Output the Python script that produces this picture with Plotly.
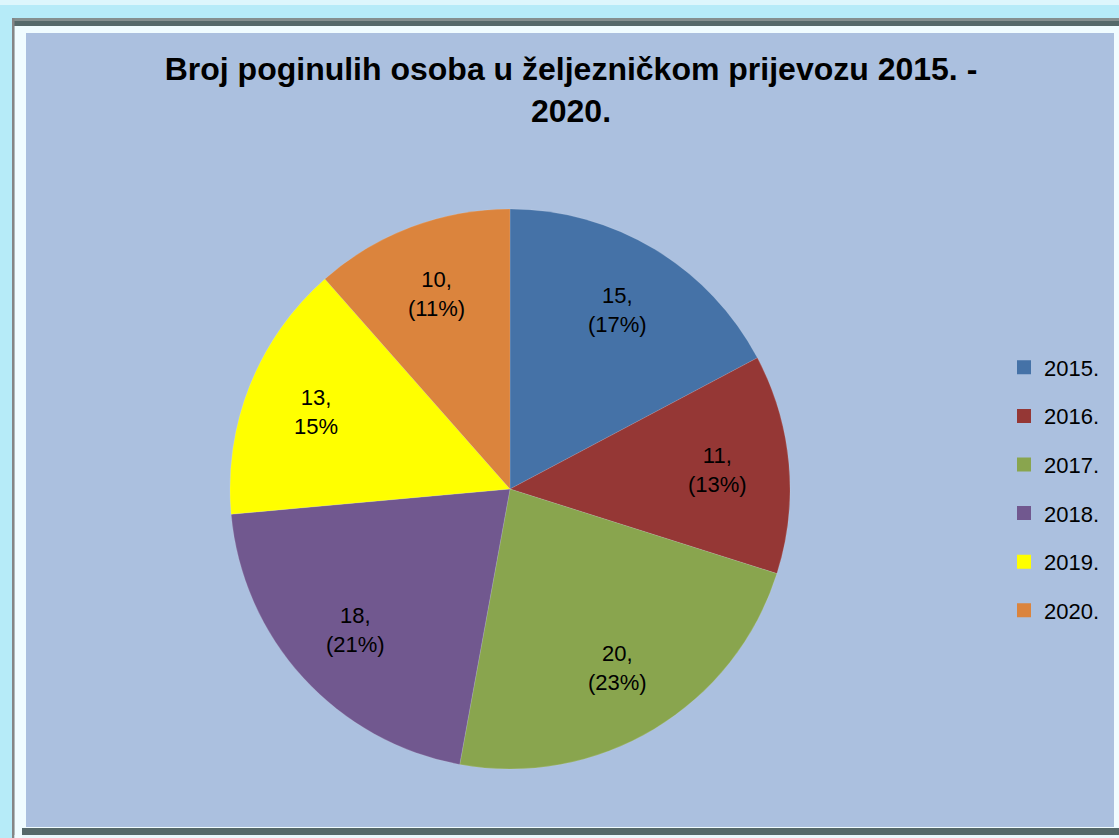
import math
import plotly.graph_objects as go

# ---- data ----
years = ["2015.", "2016.", "2017.", "2018.", "2019.", "2020."]
deaths = [15, 11, 20, 18, 13, 10]
pct_in_parens = [True, True, True, True, False, True]
colors = ["#4572A7", "#953735", "#89A54E", "#71588F", "#FFFF00", "#DB843D"]
title_text = "Broj poginulih osoba u željezničkom prijevozu 2015. -<br>2020."

W, H = 1119, 838
total = sum(deaths)
labels_txt = []
for v, par in zip(deaths, pct_in_parens):
    p = round(100 * v / total)
    labels_txt.append(f"{v},<br>({p}%)" if par else f"{v},<br>{p}%")


def px_x(x):
    return x / W


def px_y(y):
    return 1 - y / H


# pie geometry (pixels)
CX, CY, R = 510, 489, 280
LABEL_R = 0.745

fig = go.Figure()
fig.add_trace(go.Pie(
    labels=years,
    values=deaths,
    textinfo="none",
    marker=dict(colors=colors, line=dict(color="rgba(255,255,255,0.25)", width=0.5)),
    sort=False,
    direction="clockwise",
    rotation=0,
    showlegend=False,
    hoverinfo="label+value+percent",
    domain=dict(x=[px_x(CX - R), px_x(CX + R)], y=[px_y(CY + R), px_y(CY - R)]),
))

# data labels, positioned at the angular middle of each slice
annotations = []
cum = 0
for v, t in zip(deaths, labels_txt):
    mid = (cum + v / 2) / total * 2 * math.pi
    cum += v
    lx = CX + LABEL_R * R * math.sin(mid)
    ly = CY - LABEL_R * R * math.cos(mid)
    annotations.append(dict(
        x=px_x(lx), y=px_y(ly), xref="paper", yref="paper",
        text=t, showarrow=False, xanchor="center", yanchor="middle",
        align="center",
        font=dict(family="Liberation Sans", size=22, color="black"),
    ))

# legend via marker-only traces (one group each so spacing can be set)
for yr, c in zip(years, colors):
    fig.add_trace(go.Scatter(
        x=[None], y=[None], mode="markers", name=yr, legendgroup=yr,
        marker=dict(symbol="square", size=14, color=c),
        showlegend=True, hoverinfo="skip",
    ))


def rect(x0, x1, y0, y1, color):
    return dict(type="rect", xref="paper", yref="paper", layer="below",
                x0=px_x(x0), x1=px_x(x1), y0=px_y(y0), y1=px_y(y1),
                fillcolor=color, line=dict(width=0))


shapes = [
    rect(0, 1125, 0, 5, "#DDF6FC"),
    rect(12, 1125, 18, 835, "#56696A"),
    rect(12, 1125, 18, 21, "#858F8F"),
    rect(12, 14.5, 18, 840, "#858585"),
    rect(14.5, 1125, 26, 828, "#F0FCFF"),
    rect(14.5, 22, 828, 840, "#F0FCFF"),
    rect(22, 1125, 835, 840, "#EAF8FC"),
    rect(26, 1114, 33, 827, "#ABC0DF"),
]

fig.update_layout(
    width=W, height=H,
    margin=dict(l=0, r=0, t=0, b=0, pad=0),
    paper_bgcolor="#B6EBF8",
    plot_bgcolor="rgba(0,0,0,0)",
    shapes=shapes,
    annotations=annotations,
    xaxis=dict(visible=False, range=[0, 1]),
    yaxis=dict(visible=False, range=[0, 1]),
    title=dict(
        text=title_text,
        x=px_x(571), xanchor="center",
        y=px_y(80), yanchor="top",
        font=dict(family="Liberation Sans", size=32, color="black", weight="bold"),
    ),
    legend=dict(
        x=px_x(1004), xanchor="left",
        y=px_y(489), yanchor="middle",
        font=dict(family="Liberation Sans", size=22, color="black"),
        bgcolor="rgba(0,0,0,0)",
        tracegroupgap=17,
        itemwidth=30,
    ),
    showlegend=True,
)

fig.write_html("out.html",
               config={"displayModeBar": False},
               post_script="document.body.style.margin='0px';document.body.style.overflow='hidden';")
